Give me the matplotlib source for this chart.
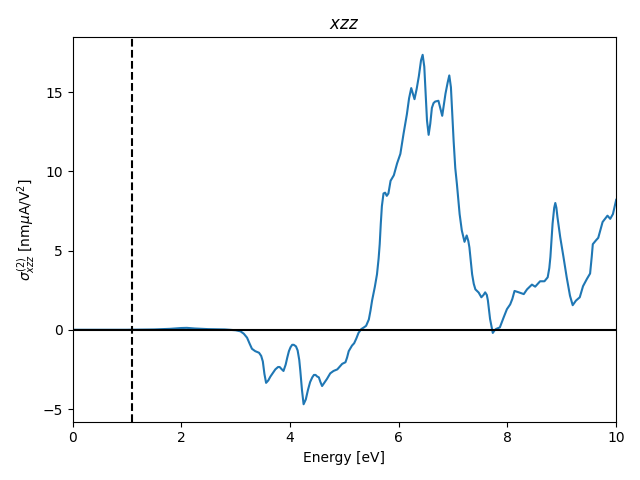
import numpy as np
import matplotlib
matplotlib.use("Agg")
import matplotlib.pyplot as plt

# photon energy [eV] and shift current sigma_xzz [nm uA/V^2]
energy = [0.0, 0.5, 1.0, 1.5, 1.8, 2.0, 2.1, 2.25, 2.5, 2.8, 3.0, 3.09, 3.15, 3.21,
          3.26, 3.30, 3.36, 3.43, 3.47, 3.50, 3.53, 3.56, 3.60, 3.64, 3.69, 3.73,
          3.78, 3.81, 3.85, 3.88, 3.92, 3.95, 3.98, 4.01, 4.04, 4.07, 4.11, 4.14,
          4.17, 4.19, 4.22, 4.25, 4.29, 4.33, 4.37, 4.41, 4.44, 4.47, 4.50, 4.53,
          4.56, 4.59, 4.64, 4.68, 4.74, 4.80, 4.87, 4.92, 4.96, 5.02, 5.05, 5.08,
          5.14, 5.18, 5.22, 5.26, 5.31, 5.36, 5.40, 5.45, 5.48, 5.51, 5.56, 5.60,
          5.63, 5.65, 5.67, 5.69, 5.72, 5.75, 5.78, 5.81, 5.85, 5.91, 5.97, 6.03,
          6.09, 6.15, 6.19, 6.23, 6.26, 6.29, 6.33, 6.37, 6.41, 6.44, 6.47, 6.49,
          6.52, 6.55, 6.58, 6.61, 6.64, 6.67, 6.73, 6.77, 6.80, 6.83, 6.86, 6.90,
          6.93, 6.96, 7.01, 7.04, 7.07, 7.12, 7.16, 7.21, 7.25, 7.28, 7.30, 7.33,
          7.35, 7.38, 7.41, 7.47, 7.52, 7.56, 7.59, 7.62, 7.64, 7.68, 7.73, 7.76,
          7.79, 7.86, 7.93, 7.99, 8.05, 8.09, 8.13, 8.21, 8.30, 8.36, 8.45, 8.51,
          8.60, 8.68, 8.74, 8.77, 8.79, 8.83, 8.86, 8.88, 8.90, 8.92, 8.97, 9.03,
          9.09, 9.15, 9.20, 9.26, 9.33, 9.39, 9.46, 9.52, 9.55, 9.57, 9.63, 9.67,
          9.75, 9.84, 9.89, 9.94, 10.0]
sigma = [0.0, 0.0, 0.0, 0.02, 0.06, 0.11, 0.12, 0.08, 0.04, 0.02, -0.03, -0.1, -0.25, -0.5,
         -0.9, -1.2, -1.35, -1.45, -1.65, -2.0, -2.8, -3.35, -3.2, -2.95, -2.7, -2.5,
         -2.35, -2.35, -2.5, -2.6, -2.2, -1.75, -1.35, -1.1, -0.95, -0.95, -1.05, -1.3,
         -1.9, -2.6, -3.8, -4.7, -4.4, -3.8, -3.3, -3.0, -2.85, -2.85, -2.95, -3.0,
         -3.3, -3.55, -3.3, -3.1, -2.75, -2.6, -2.5, -2.3, -2.15, -2.05, -1.75, -1.35,
         -1.0, -0.85, -0.55, -0.2, 0.04, 0.15, 0.25, 0.65, 1.2, 1.85, 2.7, 3.5,
         4.5, 5.4, 6.7, 7.8, 8.6, 8.65, 8.45, 8.6, 9.4, 9.75, 10.5, 11.1,
         12.4, 13.6, 14.6, 15.25, 14.9, 14.55, 15.2, 16.0, 17.0, 17.35, 16.6, 15.2,
         13.2, 12.3, 13.0, 14.0, 14.3, 14.4, 14.45, 13.9, 13.5, 14.2, 14.9, 15.6,
         16.05, 15.3, 11.9, 10.2, 9.2, 7.3, 6.27, 5.55, 5.95, 5.6, 5.2, 4.2,
         3.5, 2.9, 2.55, 2.35, 2.05, 2.2, 2.36, 2.2, 1.85, 0.68, -0.2, -0.05,
         0.05, 0.15, 0.78, 1.3, 1.6, 1.95, 2.45, 2.36, 2.25, 2.55, 2.85, 2.72,
         3.06, 3.06, 3.31, 3.9, 4.6, 6.7, 7.7, 8.0, 7.7, 7.1, 5.85, 4.6,
         3.3, 2.15, 1.55, 1.84, 2.05, 2.75, 3.2, 3.55, 4.6, 5.4, 5.65, 5.8,
         6.8, 7.2, 7.0, 7.3, 8.2]

gap = 1.1  # band gap marker [eV]

fig, ax = plt.subplots(figsize=(6.4, 4.8), dpi=100)
ax.plot(energy, sigma)
ax.axhline(0, color='k')
ax.axvline(gap, color='k', linestyle='--')
ax.set_xlim(0, 10)
ax.set_xlabel('Energy [eV]')
ax.set_ylabel(r'$\sigma^{(2)}_{xzz}$ [nm$\mu$A/V$^2$]')
ax.set_title(r'$xzz$')
fig.tight_layout()
fig.savefig('out.png')
